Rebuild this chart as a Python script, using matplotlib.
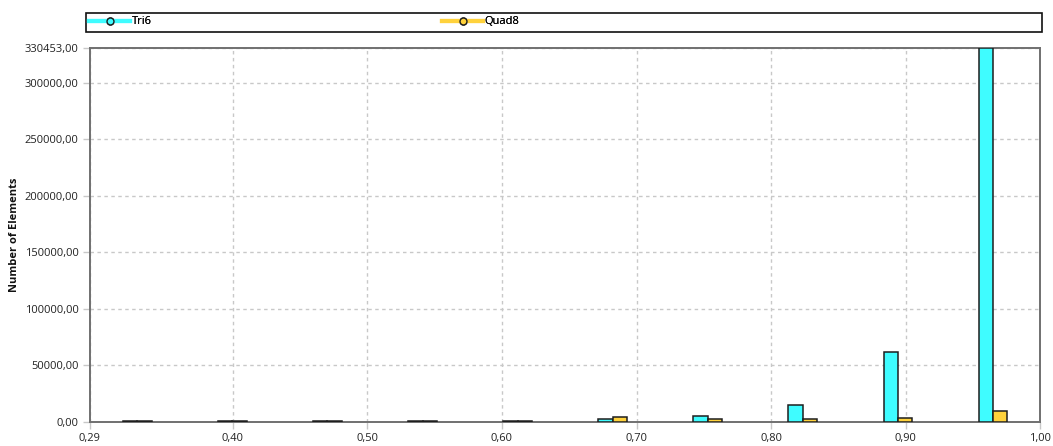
import numpy as np
import matplotlib.pyplot as plt
from matplotlib.lines import Line2D
from matplotlib.patches import Rectangle
import matplotlib.ticker as ticker

plt.rcParams['font.family'] = ['Open Sans', 'DejaVu Sans']

# element quality histogram, 10 bins between the min and max quality
x_min = 0.2938
x_max = 1.00
bin_centers = [0.3291, 0.3997, 0.4703, 0.5410, 0.6116, 0.6822, 0.7528, 0.8234, 0.8941, 0.9647]
tri6 = [420, 560, 480, 610, 650, 2300, 5300, 14600, 61500, 330453]
quad8 = [380, 450, 430, 400, 520, 4400, 2600, 2500, 3500, 9200]
x_ticks = [0.40, 0.50, 0.60, 0.70, 0.80, 0.90, 1.00]
y_ticks = [0, 50000, 100000, 150000, 200000, 250000, 300000]

cyan = '#3ffcff'
gold = '#ffd23c'
edge = '#1e1e1e'

fig = plt.figure(figsize=(10.53, 4.46), dpi=100)
ax = fig.add_axes([0.0852, 0.0549, 0.9029, 0.8368])

bw = 0.0106
xc = np.array(bin_centers)
ax.bar(xc - bw / 2, tri6, bw, color=cyan, edgecolor=edge, linewidth=1.1, zorder=3)
ax.bar(xc + bw / 2, quad8, bw, color=gold, edgecolor=edge, linewidth=1.1, zorder=3)

ymax = max(tri6)
ax.set_xlim(x_min, x_max)
ax.set_ylim(0, ymax)
ax.set_xticks([x_min] + x_ticks)
ax.set_yticks(y_ticks + [ymax])
fmt = lambda v, p: ('%.2f' % v).replace('.', ',')
ax.xaxis.set_major_formatter(ticker.FuncFormatter(fmt))
ax.yaxis.set_major_formatter(ticker.FuncFormatter(fmt))

ax.set_axisbelow(True)
ax.grid(True, color='#c8c8c8', linestyle=(0, (2.5, 2.5)), linewidth=1.0)
ax.tick_params(direction='out', length=5, width=1, color='#c8c8c8',
               labelsize=8, labelcolor='#222222', pad=3)
for s in ax.spines.values():
    s.set_color('#707070')
    s.set_linewidth(1.4)

fig.text(15 / 1053, 0.5 * (0.0549 * 2 + 0.8368), 'Number of Elements', rotation=90,
         ha='center', va='center', fontsize=8, fontweight='bold', color='#111111')

# legend strip above the plot
fig.add_artist(Rectangle((86 / 1053, 1 - 31.7 / 446), (1042 - 86) / 1053, 19 / 446,
                         transform=fig.transFigure, facecolor='white',
                         edgecolor='#111111', linewidth=1.2))
ly = 1 - 22 / 446
h1 = Line2D([], [], color=cyan, lw=3, marker='o', markersize=5,
            markerfacecolor=cyan, markeredgecolor=edge)
h2 = Line2D([], [], color=gold, lw=3, marker='o', markersize=5,
            markerfacecolor=gold, markeredgecolor=edge)
for h, lab, x0 in [(h1, 'Tri6', 89.3), (h2, 'Quad8', 442.3)]:
    leg = fig.legend([h], [lab], loc='center left', bbox_to_anchor=(x0 / 1053, ly),
                     frameon=False, fontsize=8, handlelength=3.67, handletextpad=0.15,
                     borderpad=0, borderaxespad=0)
    fig.add_artist(leg)

fig.savefig('out.png', dpi=100)
